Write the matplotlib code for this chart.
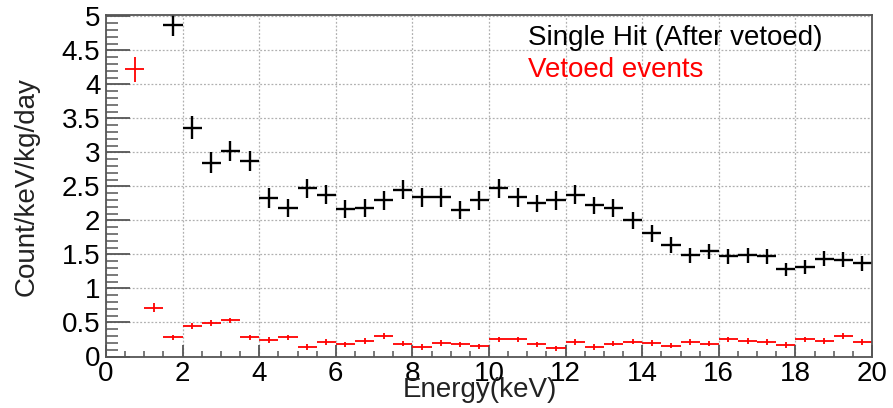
import numpy as np
import matplotlib
matplotlib.use('Agg')
import matplotlib.pyplot as plt
from matplotlib.ticker import MultipleLocator

plt.rcParams['font.family'] = ['Liberation Sans', 'DejaVu Sans']

# bin centres (0.5 keV bins)
vetoed_energy = np.arange(0.75, 20.0, 0.5)
single_energy = np.arange(1.75, 20.0, 0.5)

single_rate = [4.87, 3.36, 2.85, 3.02, 2.87, 2.33, 2.18, 2.47, 2.38, 2.17,
               2.18, 2.30, 2.45, 2.34, 2.34, 2.15, 2.30, 2.47, 2.34, 2.25,
               2.30, 2.38, 2.22, 2.18, 2.00, 1.81, 1.64, 1.49, 1.55, 1.47,
               1.49, 1.47, 1.28, 1.32, 1.44, 1.42, 1.37]
single_err = [0.16, 0.17, 0.15, 0.15, 0.15, 0.14, 0.13, 0.14, 0.14, 0.13,
              0.13, 0.14, 0.14, 0.14, 0.14, 0.13, 0.14, 0.14, 0.14, 0.13,
              0.14, 0.14, 0.13, 0.13, 0.13, 0.12, 0.12, 0.11, 0.11, 0.11,
              0.11, 0.11, 0.10, 0.10, 0.11, 0.11, 0.11]

vetoed_rate = [4.22, 0.72, 0.28, 0.45, 0.49, 0.53, 0.28, 0.24, 0.28, 0.14,
               0.21, 0.18, 0.23, 0.30, 0.19, 0.14, 0.20, 0.18, 0.15, 0.25,
               0.25, 0.18, 0.12, 0.21, 0.14, 0.19, 0.22, 0.20, 0.16, 0.21,
               0.19, 0.25, 0.23, 0.21, 0.17, 0.25, 0.23, 0.30, 0.21]
vetoed_err = [0.18, 0.07] + [0.04] * 37

bin_half = 0.25

fig = plt.figure(figsize=(8.93, 4.08), dpi=100)
ax = fig.add_axes([106/893, 1 - 356.5/408, (872-106)/893, (356.5-15)/408])

ax.errorbar(single_energy, single_rate, xerr=bin_half, yerr=single_err,
            fmt='none', ecolor='black', elinewidth=1.7, capsize=0)
ax.errorbar(vetoed_energy, vetoed_rate, xerr=bin_half, yerr=vetoed_err,
            fmt='none', ecolor='red', elinewidth=1.3, capsize=0)

ax.set_xlim(0, 20)
ax.set_ylim(0, 5.02)
ax.xaxis.set_major_locator(MultipleLocator(2))
ax.xaxis.set_minor_locator(MultipleLocator(0.5))
ax.yaxis.set_major_locator(MultipleLocator(0.5))
ax.yaxis.set_minor_locator(MultipleLocator(0.1))
ax.set_yticks(np.arange(0, 5.01, 0.5))
ax.set_yticklabels(['0', '0.5', '1', '1.5', '2', '2.5', '3', '3.5', '4', '4.5', '5'])

ax.grid(True, which='major', color='#b0b0b0', linestyle=(0, (1.5, 1.5)), linewidth=0.9)
ax.set_axisbelow(True)

for s in ax.spines.values():
    s.set_color('#555555')
    s.set_linewidth(1.3)

ax.tick_params(axis='y', which='major', direction='in', length=17, width=1.3,
               color='#555555', labelsize=20, pad=4, right=False)
ax.tick_params(axis='y', which='minor', direction='in', length=8.5, width=1.1,
               color='#555555', right=False)
ax.tick_params(axis='x', which='major', direction='in', length=8.5, width=1.3,
               color='#555555', labelsize=20, pad=3, top=False)
ax.tick_params(axis='x', which='minor', direction='in', length=4.3, width=1.1,
               color='#555555', top=False)

fig.text(27/893, 1 - 187/408, 'Count/keV/kg/day', rotation=90, fontsize=20,
         ha='center', va='center', color='#222222')
fig.text(480/893, 1 - 390/408, 'Energy(keV)', fontsize=20,
         ha='center', va='center', color='#222222')

ax.text(11.02, 4.68, 'Single Hit (After vetoed)', fontsize=20, color='black',
        ha='left', va='center')
ax.text(11.02, 4.21, 'Vetoed events', fontsize=20, color='red',
        ha='left', va='center')

fig.savefig('out.png', dpi=100)
